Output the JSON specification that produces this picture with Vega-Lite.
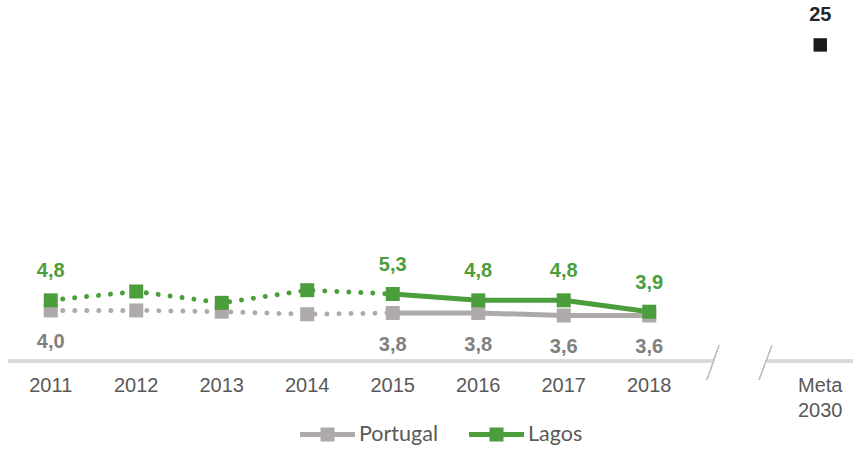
{
  "$schema": "https://vega.github.io/schema/vega-lite/v6.json",
  "width": 855,
  "height": 354,
  "autosize": {"type": "none"},
  "padding": {"left": 8, "top": 7, "right": 0, "bottom": 89},
  "background": "white",
  "config": {
    "view": {"stroke": null},
    "font": "Liberation Sans",
    "axisX": {
      "domain": false,
      "ticks": false,
      "grid": false,
      "labelFont": "Liberation Sans",
      "labelFontSize": 20,
      "labelColor": "#595959",
      "labelPadding": 14,
      "labelAngle": 0,
      "labelLineHeight": 25,
      "labelExpr": "datum.value == 'Meta 2030' ? ['Meta', '2030'] : (datum.value == 'gap' ? '' : datum.label)"
    }
  },
  "datasets": {
    "series": [
      {"year": "2011", "series": "Portugal", "value": 4.0},
      {"year": "2012", "series": "Portugal", "value": 4.0},
      {"year": "2013", "series": "Portugal", "value": 3.9},
      {"year": "2014", "series": "Portugal", "value": 3.7},
      {"year": "2015", "series": "Portugal", "value": 3.8},
      {"year": "2016", "series": "Portugal", "value": 3.8},
      {"year": "2017", "series": "Portugal", "value": 3.6},
      {"year": "2018", "series": "Portugal", "value": 3.6},
      {"year": "2011", "series": "Lagos", "value": 4.8},
      {"year": "2012", "series": "Lagos", "value": 5.5},
      {"year": "2013", "series": "Lagos", "value": 4.6},
      {"year": "2014", "series": "Lagos", "value": 5.6},
      {"year": "2015", "series": "Lagos", "value": 5.3},
      {"year": "2016", "series": "Lagos", "value": 4.8},
      {"year": "2017", "series": "Lagos", "value": 4.8},
      {"year": "2018", "series": "Lagos", "value": 3.9}
    ],
    "meta": [
      {"year": "Meta 2030", "value": 25}
    ]
  },
  "data": {"name": "series"},
  "layer": [
    {
      "mark": {"type": "rule", "color": "#d9d9d9", "strokeWidth": 2.5},
      "encoding": {
        "x": {"datum": "2011", "type": "nominal", "bandPosition": 0, "title": null,
              "scale": {"type": "band", "domain": ["2011","2012","2013","2014","2015","2016","2017","2018","gap","Meta 2030"], "paddingInner": 0, "paddingOuter": 0}},
        "x2": {"datum": "gap", "bandPosition": 0.25},
        "y": {"datum": 0, "type": "quantitative", "axis": null, "scale": {"domain": [0, 28]}}
      }
    },
    {
      "mark": {"type": "rule", "color": "#d9d9d9", "strokeWidth": 2.5},
      "encoding": {
        "x": {"datum": "gap", "type": "nominal", "bandPosition": 0.87, "title": null},
        "x2": {"datum": "Meta 2030", "bandPosition": 1},
        "y": {"datum": 0, "type": "quantitative", "axis": null}
      }
    },
    {
      "mark": {"type": "rule", "color": "#c4c4c4", "strokeWidth": 1},
      "encoding": {
        "x": {"datum": "gap", "type": "nominal", "bandPosition": 0.316, "title": null},
        "x2": {"datum": "gap", "bandPosition": 0.175},
        "y": {"datum": 1.26, "type": "quantitative", "axis": null},
        "y2": {"datum": -1.5}
      }
    },
    {
      "mark": {"type": "rule", "color": "#c4c4c4", "strokeWidth": 1},
      "encoding": {
        "x": {"datum": "gap", "type": "nominal", "bandPosition": 0.936, "title": null},
        "x2": {"datum": "gap", "bandPosition": 0.784},
        "y": {"datum": 1.26, "type": "quantitative", "axis": null},
        "y2": {"datum": -1.5}
      }
    },
    {
      "transform": [{"filter": "datum.year <= '2015'"}],
      "mark": {"type": "line", "strokeWidth": 5, "strokeCap": "round", "strokeDash": [0.01, 12]},
      "encoding": {
        "x": {"field": "year", "type": "nominal", "title": null},
        "y": {"field": "value", "type": "quantitative", "axis": null},
        "color": {"field": "series", "type": "nominal",
                  "scale": {"domain": ["Portugal", "Lagos"], "range": ["#aeaaaa", "#4b9e3b"]},
                  "legend": {
                    "title": null,
                    "orient": "none",
                    "legendX": 292,
                    "legendY": 400,
                    "direction": "horizontal",
                    "padding": 0,
                    "symbolType": "M-1,-0.09L1,-0.09L1,0.09L-1,0.09Z M-0.255,-0.255L0.255,-0.255L0.255,0.255L-0.255,0.255Z",
                    "symbolSize": 3025,
                    "symbolStrokeWidth": 0,
                    "symbolOpacity": 1,
                    "symbolDash": [],
                    "labelFont": "Lato",
                    "labelFontSize": 21.5,
                    "labelColor": "#595959",
                    "labelOffset": 4,
                    "columnPadding": 31
                  }}
      }
    },
    {
      "transform": [{"filter": "datum.year >= '2015'"}],
      "mark": {"type": "line", "strokeWidth": 5, "strokeJoin": "round"},
      "encoding": {
        "x": {"field": "year", "type": "nominal", "title": null},
        "y": {"field": "value", "type": "quantitative", "axis": null},
        "color": {"field": "series", "type": "nominal"}
      }
    },
    {
      "mark": {"type": "point", "shape": "square", "filled": true, "size": 196, "opacity": 1},
      "encoding": {
        "x": {"field": "year", "type": "nominal", "title": null},
        "y": {"field": "value", "type": "quantitative", "axis": null},
        "color": {"field": "series", "type": "nominal"}
      }
    },
    {
      "transform": [
        {"filter": "datum.series == 'Lagos' && (datum.year == '2011' || datum.year >= '2015')"},
        {"calculate": "replace(format(datum.value, '.1f'), '.', ',')", "as": "label"}
      ],
      "mark": {"type": "text", "dy": -29, "fontSize": 20, "fontWeight": "bold", "color": "#4b9e3b", "font": "Liberation Sans"},
      "encoding": {
        "x": {"field": "year", "type": "nominal", "title": null},
        "y": {"field": "value", "type": "quantitative", "axis": null},
        "text": {"field": "label"}
      }
    },
    {
      "transform": [
        {"filter": "datum.series == 'Portugal' && (datum.year == '2011' || datum.year >= '2015')"},
        {"calculate": "replace(format(datum.value, '.1f'), '.', ',')", "as": "label"}
      ],
      "mark": {"type": "text", "dy": 32, "fontSize": 20, "fontWeight": "bold", "color": "#808080", "font": "Liberation Sans"},
      "encoding": {
        "x": {"field": "year", "type": "nominal", "title": null},
        "y": {"field": "value", "type": "quantitative", "axis": null},
        "text": {"field": "label"}
      }
    },
    {
      "data": {"name": "meta"},
      "mark": {"type": "point", "shape": "square", "filled": true, "size": 180, "color": "#1a1a1a", "opacity": 1},
      "encoding": {
        "x": {"field": "year", "type": "nominal", "title": null},
        "y": {"field": "value", "type": "quantitative", "axis": null}
      }
    },
    {
      "data": {"name": "meta"},
      "mark": {"type": "text", "dy": -30, "fontSize": 20, "fontWeight": "bold", "color": "#262626", "font": "Liberation Sans"},
      "encoding": {
        "x": {"field": "year", "type": "nominal", "title": null},
        "y": {"field": "value", "type": "quantitative", "axis": null},
        "text": {"field": "value", "type": "quantitative"}
      }
    }
  ]
}
